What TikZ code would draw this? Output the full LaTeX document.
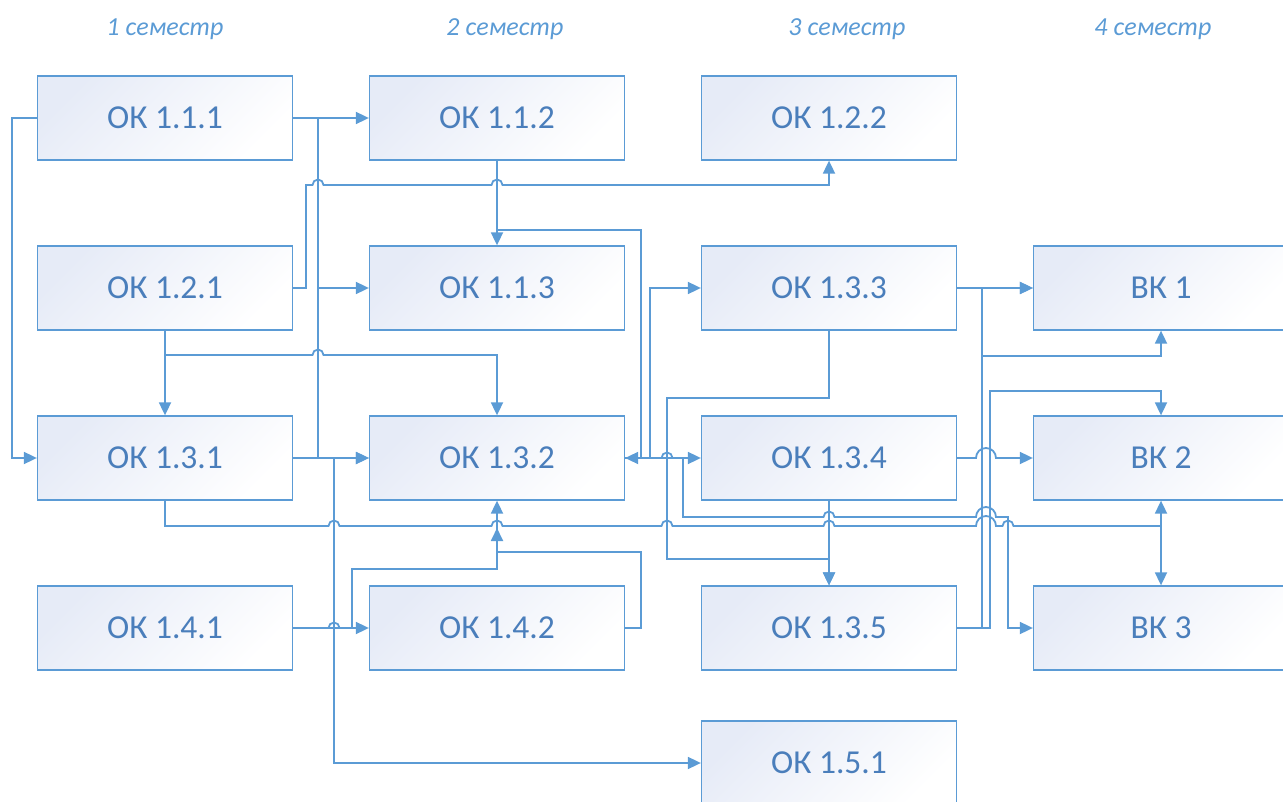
\documentclass[tikz,border=0pt]{standalone}
\usepackage{fontspec}
\setmainfont{Carlito}
\newfontfamily\semfont[Language=Russian]{Carlito}
\usetikzlibrary{arrows.meta}
\definecolor{lineblue}{HTML}{5B9BD5}
\definecolor{textblue}{HTML}{4A7EBB}
\definecolor{boxtint}{HTML}{E6EBF7}
\tikzstyle{block}=[rectangle,draw=lineblue,line width=1.3pt,minimum width=255pt,minimum height=84pt,inner sep=0pt,top color=boxtint,bottom color=white,shading angle=45,text=textblue,font=\fontsize{33.5}{40}\selectfont]
\tikzstyle{semester}=[text=lineblue,font=\semfont\fontsize{26}{30}\selectfont\itshape,anchor=base]
\tikzstyle{link}=[draw,line width=1.8pt,lineblue,-{Triangle[length=13pt,width=12pt]}]
\tikzstyle{hop}=[insert path={arc[start angle=180,end angle=0,radius=5.5pt]}]
\tikzstyle{wide hop}=[insert path={arc[start angle=180,end angle=0,radius=10pt]}]

\begin{document}
\begin{tikzpicture}[x=1pt,y=-1pt]
    \useasboundingbox (0,0) rectangle (1283,802);
    \clip (0,0) rectangle (1283,802);
    % Semester headings
    \foreach \pos/\name/\sem in {{(165,36)/S1/1},{(505,36)/S2/2},{(847,36)/S3/3},{(1153,36)/S4/4}}
    \node[semester] (\name) at \pos {\sem\ семестр};
    % Draw the course boxes
    \foreach \pos/\name/\txt in {
        {(165,118)/OK111/ОК 1.1.1},{(497,118)/OK112/ОК 1.1.2},{(829,118)/OK122/ОК 1.2.2},
        {(165,288)/OK121/ОК 1.2.1},{(497,288)/OK113/ОК 1.1.3},{(829,288)/OK133/ОК 1.3.3},{(1161,288)/VK1/ВК 1},
        {(165,458)/OK131/ОК 1.3.1},{(497,458)/OK132/ОК 1.3.2},{(829,458)/OK134/ОК 1.3.4},{(1161,458)/VK2/ВК 2},
        {(165,628)/OK141/ОК 1.4.1},{(497,628)/OK142/ОК 1.4.2},{(829,628)/OK135/ОК 1.3.5},{(1161,628)/VK3/ВК 3},
        {(829,763)/OK151/ОК 1.5.1}}
    \node[block] (\name) at \pos {\txt};
    % Straight links
    \foreach \source/\dest in {OK111.east/OK112.west,OK131.east/OK132.west,OK112.south/OK113.north,
        OK121.south/OK131.north,OK134.south/OK135.north,OK133.east/VK1.west}
    \path[link] (\source) -- (\dest);
    % Routed links, horizontal runs hop over the vertical ones
    \coordinate (J1) at (497,528);
    \coordinate (J2) at (1161,526);
    \path[link] (OK111.west) -- (12,118) -- (12,458) -- (OK131.west);
    \path[link] (OK111.east) -- (318,118) -- (318,288) -- (OK113.west);
    \path[link] (OK111.east) -- (318,118) -- (318,458) -- (OK132.west);
    \path[link] (OK131.east) -- (334,458) -- (334,763) -- (OK151.west);
    \path[link] (OK121.east) -- (306,288) -- (306,185) -- (312.5,185) [hop] -- (491.5,185) [hop] -- (829,185) -- (OK122.south);
    \path[link] (OK112.south) -- (497,230) -- (641,230) -- (641,458) -- (OK132.east);
    \path[link] (OK121.south) -- (165,355) -- (312.5,355) [hop] -- (497,355) -- (OK132.north);
    \path[link] (OK132.east) -- (650,458) -- (650,288) -- (OK133.west);
    \path[link] (OK132.east) -- (661.5,458) [hop] -- (OK134.west);
    \path[link] (OK132.east) -- (683,458) -- (683,517) -- (823.5,517) [hop] -- (976,517) [wide hop] -- (1008,517) -- (1008,628) -- (VK3.west);
    \path[link] (OK131.south) -- (165,526) -- (328.5,526) [hop] -- (491.5,526) [hop] -- (661.5,526) [hop] -- (823.5,526) [hop] -- (976,526) [wide hop] -- (1002.5,526) [hop] -- (J2) -- (VK2.south);
    \path[link] (J2) -- (VK3.north);
    \path[link] (OK133.south) -- (829,398) -- (667,398) -- (667,559) -- (829,559) -- (OK135.north);
    \path[link] (OK135.east) -- (982,628) -- (982,288) -- (VK1.west);
    \path[link] (OK135.east) -- (982,628) -- (982,356) -- (1161,356) -- (VK1.south);
    \path[link] (OK135.east) -- (990,628) -- (990,391) -- (1161,391) -- (VK2.north);
    \path[link] (OK134.east) -- (976,458) [wide hop] -- (VK2.west);
    \path[link] (OK141.east) -- (328.5,628) [hop] -- (OK142.west);
    \path[link] (OK141.east) -- (352,628) -- (352,569) -- (497,569) -- (J1);
    \path[link] (OK142.east) -- (641,628) -- (641,552) -- (497,552) -- (OK132.south);
\end{tikzpicture}
\end{document}
